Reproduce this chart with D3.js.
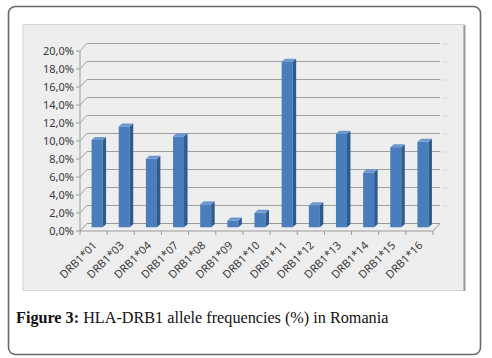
<!DOCTYPE html>
<html>
<head>
<meta charset="utf-8">
<script src="https://cdn.jsdelivr.net/npm/d3@7"></script>
<style>
  body { margin: 0; background: #fff; }
</style>
</head>
<body>
<div id="chart"></div>
<script>
// data
var alleles = ["DRB1*01", "DRB1*03", "DRB1*04", "DRB1*07", "DRB1*08", "DRB1*09", "DRB1*10",
               "DRB1*11", "DRB1*12", "DRB1*13", "DRB1*14", "DRB1*15", "DRB1*16"];
var freqs = [9.7, 11.2, 7.6, 10.1, 2.55, 0.75, 1.6, 18.4, 2.45, 10.4, 6.1, 8.9, 9.5];
var yTicks = [0, 2, 4, 6, 8, 10, 12, 14, 16, 18, 20];
var caption = "HLA-DRB1 allele frequencies (%) in Romania";

var W = 492, H = 358;
var depthX = 7, depthY = -7.5;   // 3d wall offset

var svg = d3.select("#chart").append("svg")
    .attr("width", W)
    .attr("height", H);

// outer frame
svg.append("rect")
    .attr("x", 8.5).attr("y", 6.5)
    .attr("width", 472).attr("height", 348)
    .attr("rx", 7)
    .attr("fill", "#fff")
    .attr("stroke", "#6a6a6a")
    .attr("stroke-width", 1.6);

// chart area
svg.append("rect")
    .attr("x", 23).attr("y", 24.5)
    .attr("width", 441).attr("height", 266)
    .attr("fill", "#eeeeef")
    .attr("stroke", "#d4d4d4");
svg.append("line")
    .attr("x1", 464.5).attr("x2", 464.5)
    .attr("y1", 25).attr("y2", 291)
    .attr("stroke", "#9a9a9a").attr("stroke-width", 2);

var x = d3.scaleBand()
    .domain(alleles)
    .range([80, 433]);

var y = d3.scaleLinear()
    .domain([0, 20])
    .range([231, 51]);

var g = svg.append("g")
    .style("font-family", "'Noto Sans', sans-serif");

// gridlines: front tick -> diagonal -> back wall
g.selectAll(".grid")
    .data(yTicks)
    .enter().append("path")
    .attr("class", "grid")
    .attr("fill", "none")
    .attr("stroke", d => d === 0 ? "#9a9a9a" : "#a0a0a0")
    .attr("stroke-width", 1)
    .attr("d", function (d) {
        var yy = y(d);
        return "M" + 76 + "," + yy + "L80," + yy + "L" + (80 + depthX) + "," + (yy + depthY) +
               "L" + (433 + depthX) + "," + (yy + depthY);
    });

// small marks at the right end of gridlines
g.selectAll(".rmark")
    .data(yTicks.slice(1))
    .enter().append("line")
    .attr("class", "rmark")
    .attr("x1", 442).attr("x2", 448)
    .attr("y1", d => y(d) + depthY + 0.5)
    .attr("y2", d => y(d) + depthY + 0.5)
    .attr("stroke", "#d8d8d8");

// y axis line
g.append("line")
    .attr("x1", 80).attr("x2", 80)
    .attr("y1", y(20)).attr("y2", y(0))
    .attr("stroke", "#9a9a9a");

// floor
g.append("path")
    .attr("fill", "none")
    .attr("stroke", "#9a9a9a")
    .attr("d", "M80," + y(0) + "L433," + y(0) + "L" + (433 + depthX) + "," + (y(0) + depthY));

// category ticks under the floor
var bounds = alleles.map(d => x(d)).concat([433]);
g.selectAll(".xtick")
    .data(bounds)
    .enter().append("line")
    .attr("class", "xtick")
    .attr("x1", d => d).attr("x2", d => d)
    .attr("y1", y(0)).attr("y2", y(0) + 4)
    .attr("stroke", "#9a9a9a");

// y labels
g.selectAll(".ylab")
    .data(yTicks)
    .enter().append("text")
    .attr("class", "ylab")
    .attr("x", 74)
    .attr("y", d => y(d) + 4)
    .attr("text-anchor", "end")
    .attr("fill", "#3a3a3a")
    .style("font-size", "11px")
    .text(d => d.toFixed(1).replace(".", ",") + "%");

// bars (front, side, top faces) at mid depth
var bw = 11, sx = 3.5, sy = -3;
var ox = depthX / 2, oy = depthY / 2;
var bars = g.selectAll(".bar")
    .data(alleles)
    .enter().append("g")
    .attr("class", "bar");

bars.append("rect")
    .attr("x", (d, i) => x(d) + x.bandwidth() / 2 + ox - bw / 2)
    .attr("y", (d, i) => y(freqs[i]) + oy)
    .attr("width", bw)
    .attr("height", (d, i) => y(0) - y(freqs[i]))
    .attr("fill", "#4a7dbb");

bars.append("path")
    .attr("fill", "#2d5b8f")
    .attr("d", function (d, i) {
        var x0 = x(d) + x.bandwidth() / 2 + ox + bw / 2;
        var yt = y(freqs[i]) + oy, yb = y(0) + oy;
        return "M" + x0 + "," + yt + "L" + (x0 + sx) + "," + (yt + sy) + "L" + (x0 + sx) + "," + (yb + sy) +
               "L" + x0 + "," + yb + "Z";
    });

bars.append("path")
    .attr("fill", "#6c98d0")
    .attr("d", function (d, i) {
        var x0 = x(d) + x.bandwidth() / 2 + ox - bw / 2;
        var yt = y(freqs[i]) + oy;
        return "M" + x0 + "," + yt + "L" + (x0 + bw) + "," + yt + "L" + (x0 + bw + sx) + "," + (yt + sy) +
               "L" + (x0 + sx) + "," + (yt + sy) + "Z";
    });

// x labels, rotated
g.selectAll(".xlab")
    .data(alleles)
    .enter().append("text")
    .attr("class", "xlab")
    .attr("text-anchor", "end")
    .attr("fill", "#3a3a3a")
    .style("font-size", "11px")
    .attr("transform", d => "translate(" + (x(d) + x.bandwidth() / 2 + 4) + "," + 246 + ") rotate(-45)")
    .text(d => d);

// caption
var cap = svg.append("text")
    .attr("x", 16)
    .attr("y", 323)
    .style("font-family", "'Liberation Serif', serif")
    .style("font-size", "16.2px")
    .attr("fill", "#111");
cap.append("tspan").style("font-weight", "bold").text("Figure 3:");
cap.append("tspan").text(" " + caption);
</script>
</body>
</html>
